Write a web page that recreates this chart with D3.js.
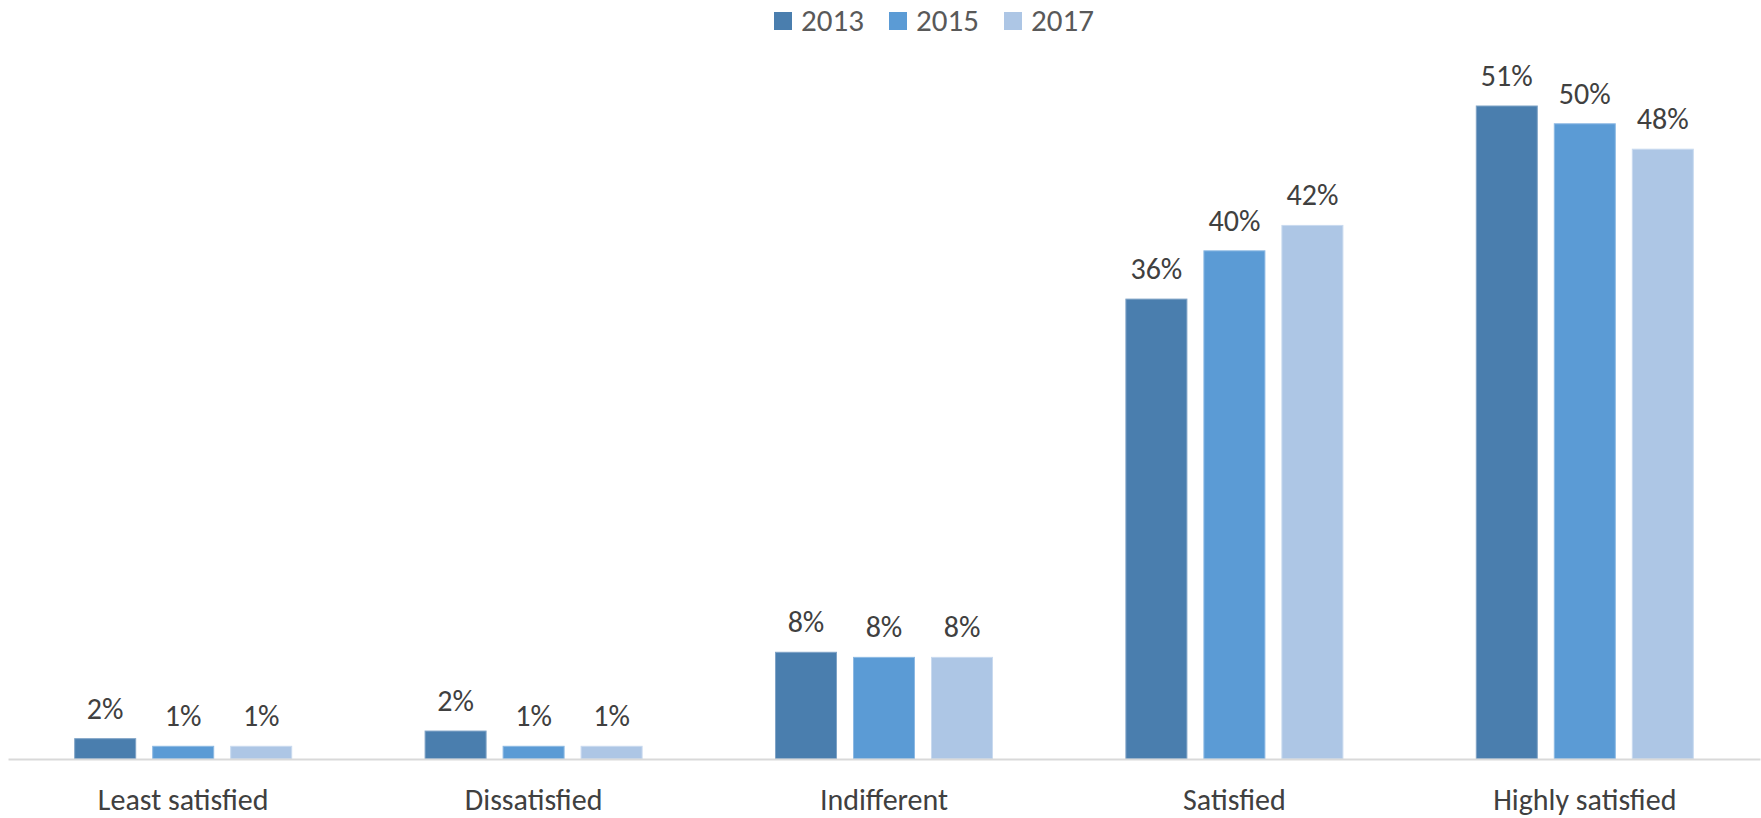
<!DOCTYPE html>
<html>
<head>
<meta charset="utf-8">
<script src="https://cdn.jsdelivr.net/npm/d3@7"></script>
<style>
  html, body { margin: 0; padding: 0; background: #ffffff; }
  svg { display: block; }
  text { font-family: Carlito, Calibri, Lato, "Open Sans", sans-serif; }
</style>
</head>
<body>
<svg id="chart" width="1761" height="818"></svg>
<script>
// Satisfaction levels by survey year (share of respondents, %)
const categories = ["Least satisfied", "Dissatisfied", "Indifferent", "Satisfied", "Highly satisfied"];
const years = ["2013", "2015", "2017"];
const values2013 = [1.6, 2.2, 8.4, 36.2, 51.4];
const values2015 = [1.0, 1.0, 8.0, 40.0, 50.0];
const values2017 = [1.0, 1.0, 8.0, 42.0, 48.0];
const colors = ["#4a7eae", "#5b9bd5", "#adc6e5"];
const strokes = ["#7fa3c6", "#8db9e3", "#c9daef"];

const seriesValues = [values2013, values2015, values2017];
const rows = categories.map((c, i) => ({
  category: c,
  bars: years.map((y, j) => ({ year: y, index: j, value: seriesValues[j][i] }))
}));

const svg = d3.select("#chart");
const left = 8, right = 1760, baseline = 759;

const x = d3.scaleBand().domain(categories).range([left, right]).paddingInner(0).paddingOuter(0);
const xInner = d3.scaleBand().domain(years).range([0, x.bandwidth()]).paddingInner(0.218).paddingOuter(0.855);
const y = d3.scaleLinear().domain([0, 51.4]).range([baseline, 106]);

const fmt = v => d3.format(".0f")(v) + "%";

const groups = svg.append("g").selectAll("g.cat")
  .data(rows).join("g")
  .attr("class", "cat")
  .attr("transform", d => `translate(${x(d.category)},0)`);

groups.selectAll("rect")
  .data(d => d.bars).join("rect")
  .attr("x", d => xInner(d.year))
  .attr("y", d => y(d.value))
  .attr("width", xInner.bandwidth())
  .attr("height", d => y(0) - y(d.value))
  .attr("fill", d => colors[d.index])
  .attr("stroke", d => strokes[d.index])
  .attr("stroke-width", 1);

groups.selectAll("text.val")
  .data(d => d.bars).join("text")
  .attr("class", "val")
  .attr("x", d => xInner(d.year) + xInner.bandwidth() / 2)
  .attr("y", d => y(d.value) - 20)
  .attr("text-anchor", "middle")
  .attr("font-size", 30)
  .attr("fill", "#404040")
  .text(d => fmt(d.value));

// category axis along the baseline
const axis = svg.append("g")
  .attr("transform", `translate(0,${baseline})`)
  .call(d3.axisBottom(x).tickSize(0).tickPadding(30));
axis.select(".domain").attr("stroke", "#d9d9d9").attr("stroke-width", 2);
axis.selectAll(".tick text")
  .attr("font-size", 30)
  .attr("fill", "#404040")
  .attr("font-family", "Carlito, Calibri, Lato, 'Open Sans', sans-serif");

// legend
const legend = svg.append("g").selectAll("g")
  .data(years).join("g")
  .attr("transform", (d, i) => `translate(${774 + i * 115},12)`);
legend.append("rect")
  .attr("width", 18).attr("height", 18)
  .attr("fill", (d, i) => colors[i]);
legend.append("text")
  .attr("x", 27).attr("y", 19)
  .attr("font-size", 31)
  .attr("fill", "#595959")
  .text(d => d);
</script>
</body>
</html>
